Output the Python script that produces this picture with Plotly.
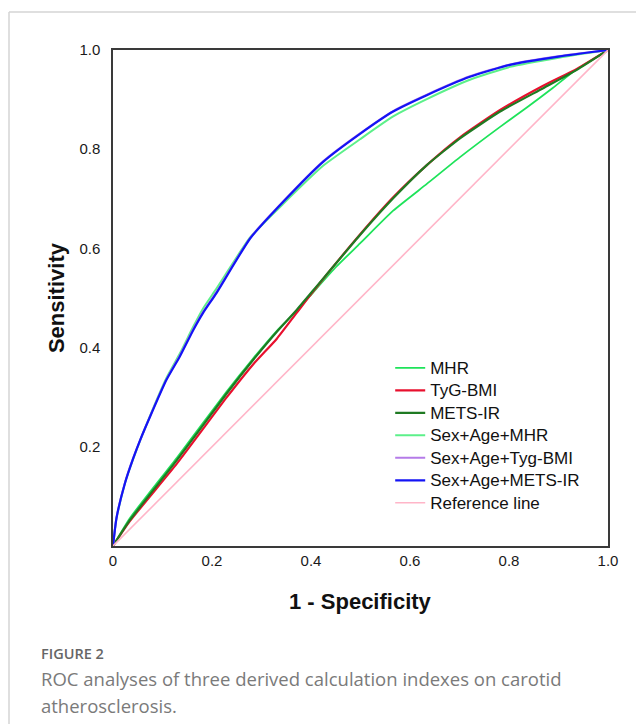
import plotly.graph_objects as go

# ROC curve points (1 - specificity, sensitivity)
mhr_x = [0, 0.034, 0.129, 0.230, 0.283, 0.331, 0.371, 0.405, 0.450, 0.499, 0.566, 0.634, 0.701, 0.782, 0.836, 0.889, 0.930, 1.0]
mhr_y = [0, 0.056, 0.178, 0.312, 0.378, 0.434, 0.474, 0.512, 0.562, 0.610, 0.676, 0.730, 0.784, 0.845, 0.884, 0.924, 0.956, 1.0]

tyg_x = [0, 0.034, 0.129, 0.230, 0.283, 0.331, 0.371, 0.405, 0.499, 0.566, 0.634, 0.701, 0.782, 0.869, 0.937, 1.0]
tyg_y = [0, 0.050, 0.166, 0.300, 0.366, 0.418, 0.470, 0.514, 0.628, 0.703, 0.768, 0.824, 0.879, 0.928, 0.962, 1.0]

mets_x = [0, 0.034, 0.129, 0.230, 0.283, 0.331, 0.371, 0.405, 0.499, 0.566, 0.634, 0.701, 0.782, 0.869, 0.937, 1.0]
mets_y = [0, 0.052, 0.173, 0.308, 0.375, 0.432, 0.476, 0.516, 0.627, 0.701, 0.768, 0.822, 0.876, 0.923, 0.960, 1.0]

sa_mhr_x = [0, 0.007, 0.024, 0.041, 0.075, 0.108, 0.135, 0.162, 0.182, 0.209, 0.277, 0.344, 0.425, 0.499, 0.566, 0.634, 0.721, 0.802, 0.903, 1.0]
sa_mhr_y = [0, 0.056, 0.126, 0.176, 0.263, 0.339, 0.388, 0.442, 0.479, 0.519, 0.622, 0.690, 0.767, 0.820, 0.866, 0.901, 0.940, 0.966, 0.985, 1.0]

sa_tyg_x = [0, 0.007, 0.024, 0.041, 0.075, 0.108, 0.135, 0.162, 0.182, 0.209, 0.277, 0.344, 0.425, 0.499, 0.566, 0.634, 0.721, 0.802, 0.903, 1.0]
sa_tyg_y = [0, 0.057, 0.127, 0.178, 0.262, 0.336, 0.384, 0.437, 0.472, 0.512, 0.621, 0.695, 0.776, 0.832, 0.877, 0.910, 0.947, 0.971, 0.988, 1.0]

sa_mets_x = [0, 0.007, 0.024, 0.041, 0.055, 0.075, 0.108, 0.135, 0.162, 0.182, 0.209, 0.277, 0.344, 0.425, 0.499, 0.566, 0.634, 0.721, 0.802, 0.903, 1.0]
sa_mets_y = [0, 0.056, 0.126, 0.177, 0.214, 0.261, 0.335, 0.382, 0.435, 0.470, 0.510, 0.620, 0.694, 0.775, 0.831, 0.876, 0.909, 0.946, 0.970, 0.987, 1.0]

ref_x = [0, 1]
ref_y = [0, 1]

x_ticks = [0, 0.2, 0.4, 0.6, 0.8, 1.0]
x_ticktext = ['0', '0.2', '0.4', '0.6', '0.8', '1.0']
y_ticks = [0.2, 0.4, 0.6, 0.8, 1.0]
y_ticktext = ['0.2', '0.4', '0.6', '0.8', '1.0']

series = [
    ('MHR', mhr_x, mhr_y, '#1ee35a', 1.8),
    ('TyG-BMI', tyg_x, tyg_y, '#e8102e', 2.2),
    ('METS-IR', mets_x, mets_y, '#1f7a22', 2.2),
    ('Sex+Age+MHR', sa_mhr_x, sa_mhr_y, '#5cf08a', 2.0),
    ('Sex+Age+Tyg-BMI', sa_tyg_x, sa_tyg_y, '#b57be8', 2.0),
    ('Sex+Age+METS-IR', sa_mets_x, sa_mets_y, '#1414f5', 2.2),
    ('Reference line', ref_x, ref_y, '#ffb5c8', 1.6),
]

fig = go.Figure()
for name, xs, ys, color, width in series:
    # bigger text in the legend than the row spacing plotly gives it
    fig.add_trace(go.Scatter(
        x=xs, y=ys, mode='lines',
        name=f'<span style="font-size:17px">{name}</span>',
        line=dict(color=color, width=width, shape='spline', smoothing=0.5),
    ))

axis_fmt = dict(
    range=[0, 1],
    showgrid=False,
    zeroline=False,
    showline=True,
    mirror=True,
    linecolor='#3a3a3a',
    linewidth=1.5,
    ticks='',
    tickfont=dict(family='Liberation Sans', size=15, color='#1a1a1a'),
)

# page body adds 8px, so the figure is 8px smaller than the window
fig.update_layout(
    width=636,
    height=716,
    margin=dict(l=105, r=36, t=42, b=178),
    plot_bgcolor='white',
    paper_bgcolor='white',
    showlegend=True,
    legend=dict(
        x=0.56, y=0.392, xanchor='left', yanchor='top',
        bgcolor='rgba(0,0,0,0)',
        font=dict(family='Liberation Sans', size=15, color='#111111'),
        tracegroupgap=0,
    ),
    xaxis=dict(axis_fmt, tickvals=x_ticks, ticktext=x_ticktext, ticklabelstandoff=0),
    yaxis=dict(axis_fmt, tickvals=y_ticks, ticktext=y_ticktext, ticklabelstandoff=8),
)

# axis titles
fig.add_annotation(text='<b>1 - Specificity</b>', xref='paper', yref='paper',
                   x=0.5, y=-0.111, xanchor='center', yanchor='middle', showarrow=False,
                   font=dict(family='Liberation Sans', size=22, color='#111111'))
fig.add_annotation(text='<b>Sensitivity</b>', xref='paper', yref='paper',
                   x=-0.115, y=0.5, xanchor='center', yanchor='middle',
                   showarrow=False, textangle=-90,
                   font=dict(family='Liberation Sans', size=22, color='#111111'))

# caption
cap_x = -0.15
fig.add_annotation(text='FIGURE 2', xref='paper', yref='paper',
                   x=cap_x, y=-0.2158, xanchor='left', yanchor='middle', showarrow=False,
                   font=dict(family='Open Sans', size=14.5, color='#666666', weight=600))
fig.add_annotation(text='ROC analyses of three derived calculation indexes on carotid',
                   xref='paper', yref='paper', x=cap_x, y=-0.268, xanchor='left',
                   yanchor='middle', showarrow=False,
                   font=dict(family='Open Sans', size=18.5, color='#7a7a7a'))
fig.add_annotation(text='atherosclerosis.', xref='paper', yref='paper',
                   x=cap_x, y=-0.3206, xanchor='left', yanchor='middle', showarrow=False,
                   font=dict(family='Open Sans', size=18.5, color='#7a7a7a'))

# card border (top and left edges)
fig.add_shape(type='line', xref='paper', yref='paper', x0=-0.2101, x1=1.08, y0=1.0766, y1=1.0766,
              line=dict(color='#d4d4d4', width=1.5))
fig.add_shape(type='line', xref='paper', yref='paper', x0=-0.2101, x1=-0.2101, y0=1.0766, y1=-0.37,
              line=dict(color='#d4d4d4', width=1.5))

fig.write_html("out.html")
